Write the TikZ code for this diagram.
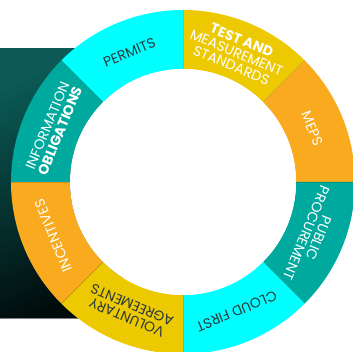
\documentclass[tikz,border=0pt]{standalone}
\usepackage{fontspec}
\setmainfont{Poppins}
\definecolor{ringcyan}{HTML}{00FFFF}
\definecolor{ringyellow}{HTML}{EDC902}
\definecolor{ringorange}{HTML}{F9AA1F}
\definecolor{ringteal}{HTML}{00A99D}
\definecolor{inkdark}{HTML}{2B3A3A}
\definecolor{boxtop}{HTML}{0B5A55}
\definecolor{boxbottom}{HTML}{000B0B}
\def \rin  {113}
\def \rout {172}
\def \rmid {140}
% one slice of the ring, from angle #2 to angle #3
\newcommand{\ringpart}[3]{\fill [#1] (#2:\rout) arc (#2:#3:\rout) -- (#3:\rin) arc (#3:#2:\rin) -- cycle;}
\tikzset{
  partlbl/.style={align=center, inner sep=0pt, font=\fontsize{14}{13.5}\selectfont},
}

\begin{document}
\begin{tikzpicture}[x=1pt,y=1pt]
\useasboundingbox (-183,-170) rectangle (169,182);
% dark panel behind the ring
\shade [top color=boxtop, bottom color=boxbottom, shading angle=25] (-183,133.5) rectangle (-60,-136);
\draw [gray, line width=0.8pt] (-183,-136)--(-60,-136);
% the eight slices
\ringpart{ringyellow}{45}{90}
\ringpart{ringorange}{0}{45}
\ringpart{ringteal}{-45}{0}
\ringpart{ringcyan}{-90}{-45}
\ringpart{ringyellow}{-135}{-90}
\ringpart{ringorange}{180}{225}
\ringpart{ringteal}{135}{180}
\ringpart{ringcyan}{90}{135}
\fill [white] (0,0) circle (\rin);
% thin seams between slices
\foreach \a in {0,45,...,315}
  \draw [black, opacity=0.12, line width=0.4pt] (\a:\rin)--(\a:\rout);
% labels, tops facing out
\node [partlbl, inkdark, rotate=22.5] (permits) at (112.5:\rmid) {PERMITS};
\node [partlbl, white, rotate=-22.5] (tests) at (67.5:\rmid) {\textbf{TEST AND}\\MEASUREMENT\\STANDARDS};
\node [partlbl, white, rotate=-67.5] (meps) at (22.5:\rmid) {MEPS};
\node [partlbl, white, rotate=-112.5] (procure) at (-22.5:\rmid) {PUBLIC\\PROCUREMENT};
\node [partlbl, inkdark, rotate=-157.5] (cloud) at (-67.5:\rmid) {CLOUD FIRST};
\node [partlbl, inkdark, rotate=157.5] (voluntary) at (-112.5:\rmid) {VOLUNTARY\\AGREEMENTS};
\node [partlbl, white, rotate=112.5] (incent) at (-157.5:\rmid) {INCENTIVES};
\node [partlbl, white, rotate=67.5] (info) at (157.5:\rmid) {INFORMATION\\\textbf{OBLIGATIONS}};
\end{tikzpicture}
\end{document}
